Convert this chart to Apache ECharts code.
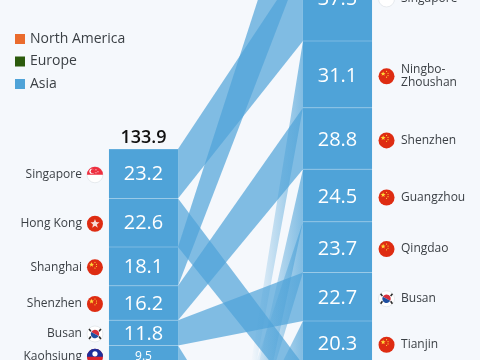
<!DOCTYPE html>
<html>
<head>
<meta charset="utf-8">
<style>
html, body { margin: 0; padding: 0; background: #f5f8fc; overflow: hidden; }
#main { width: 480px; height: 360px; }
</style>
<script src="https://cdn.jsdelivr.net/npm/echarts@6/dist/echarts.min.js"></script>
</head>
<body>
<div id="main"></div>
<script>
const years = ['2005', '2021']
const regions = ['North America', 'Europe', 'Asia']
const leftTotal = '133.9'

const leftPorts = ['Singapore', 'Hong Kong', 'Shanghai', 'Shenzhen', 'Busan', 'Kaohsiung']
const leftValues = [23.2, 22.6, 18.1, 16.2, 11.8, 9.5]
const leftFlags = ['sg', 'hk', 'cn', 'cn', 'kr', 'tw']

// the last rows of the right column run below the crop
const rightPorts = ['Shanghai', 'Singapore', 'Ningbo-\nZhoushan', 'Shenzhen', 'Guangzhou', 'Qingdao', 'Busan', 'Tianjin', 'Hong Kong', 'Rotterdam', 'Dubai', 'Port Klang', 'Antwerp', 'Xiamen', 'Kaohsiung']
const rightValues = [47.0, 37.5, 31.1, 28.8, 24.5, 23.7, 22.7, 20.3, 17.8, 15.3, 13.7, 13.7, 12.0, 12.0, 9.9]
const rightFlags = ['cn', 'sg', 'cn', 'cn', 'cn', 'cn', 'kr', 'cn', 'hk', 'nl', 'ae', 'my', 'be', 'cn', 'tw']

// ports new to the ranking: they fade in from below, no block on the left
const newPorts = ['Ningbo-\nZhoushan', 'Guangzhou', 'Qingdao', 'Tianjin']
const newFromTop = [381, 336, 279, 267]
const newFromBottom = [371, 378, 320, 287]

const PX_PER_UNIT = 2.14
const LEFT_START = 69.6 // axis units from the top of the crop
const RIGHT_START = -65.3
const COLOR = '#4fa3d8'
const RIBBON = 'rgba(79,163,216,0.7)'
const FONT = '"Open Sans", sans-serif'

function stack(values, start) {
	let y = start
	return values.map(v => {
		const row = [y, y + v]
		y += v
		return row
	})
}

const leftStack = stack(leftValues, LEFT_START)
const rightStack = stack(rightValues, RIGHT_START)

const blockRows = [
	...leftValues.map((v, i) => [0, leftStack[i][0], leftStack[i][1], v, i]),
	...rightValues.map((v, i) => [1, rightStack[i][0], rightStack[i][1], v, i])
]

const ribbonRows = leftPorts.map((name, i) => {
	const j = rightPorts.indexOf(name)
	return [leftStack[i][0], leftStack[i][1], rightStack[j][0], rightStack[j][1]]
})

const newRows = newPorts.map((name, i) => {
	const j = rightPorts.indexOf(name)
	return [newFromTop[i], newFromBottom[i], rightStack[j][0], rightStack[j][1]]
})

function star(cx, cy, r, fill) {
	const points = []
	for (let i = 0; i < 10; i++) {
		const a = -Math.PI / 2 + i * Math.PI / 5
		const d = i % 2 ? r * 0.42 : r
		points.push([cx + Math.cos(a) * d, cy + Math.sin(a) * d])
	}
	return { type: 'polygon', shape: { points }, style: { fill } }
}

function flag(kind, cx, cy) {
	const r = 8
	const circle = (x, y, rr, fill, stroke) => ({
		type: 'circle',
		shape: { cx: x, cy: y, r: rr },
		style: { fill, stroke: stroke || null, lineWidth: stroke ? 0.6 : 0 }
	})
	const half = (x, y, rr, start, end, fill) => ({
		type: 'sector',
		shape: { cx: x, cy: y, r: rr, r0: 0, startAngle: start, endAngle: end },
		style: { fill }
	})
	if (kind === 'cn') {
		return [
			circle(cx, cy, r, '#de2c12'),
			star(cx - 3.4, cy - 2.6, 2.6, '#ffd83a'),
			circle(cx, cy - 5, 0.6, '#ffd83a'),
			circle(cx + 1.5, cy - 3, 0.6, '#ffd83a'),
			circle(cx + 1.5, cy - 0.8, 0.6, '#ffd83a'),
			circle(cx, cy + 0.8, 0.6, '#ffd83a')
		]
	}
	if (kind === 'hk') {
		return [circle(cx, cy, r, '#de2c12'), star(cx, cy, 4.8, '#f6dcd6'), circle(cx, cy, 2.2, '#f6dcd6')]
	}
	if (kind === 'sg') {
		return [
			circle(cx, cy, r, '#fff', '#d8dde2'),
			half(cx, cy, r, Math.PI, Math.PI * 2, '#ee2f3f'),
			circle(cx - 3, cy - 3.5, 2.6, '#fff'),
			circle(cx - 2, cy - 3.5, 2.2, '#ee2f3f'),
			circle(cx + 1, cy - 5, 0.6, '#fff'),
			circle(cx + 3, cy - 3, 0.6, '#fff'),
			circle(cx + 1, cy - 2, 0.6, '#fff')
		]
	}
	if (kind === 'kr') {
		const bar = (x, y, rot) => ({
			type: 'rect',
			x,
			y,
			rotation: rot,
			shape: { x: -1.5, y: -0.8, width: 3, height: 1.6 },
			style: { fill: '#2b2b2b' }
		})
		return [
			circle(cx, cy, r, '#fff', '#d8dde2'),
			half(cx, cy, 4.2, Math.PI + 0.5, Math.PI * 2 + 0.5, '#d6303c'),
			half(cx, cy, 4.2, 0.5, Math.PI + 0.5, '#1f4fa0'),
			bar(cx - 5, cy - 3.8, -0.95),
			bar(cx + 5, cy - 3.8, 0.95),
			bar(cx - 5, cy + 3.8, 0.95),
			bar(cx + 5, cy + 3.8, -0.95)
		]
	}
	if (kind === 'tw') {
		return [
			circle(cx, cy, r, '#d8242c'),
			half(cx, cy, r, Math.PI, Math.PI * 2, '#1c2f9c'),
			circle(cx, cy - 3, 2.6, '#fff')
		]
	}
	return [circle(cx, cy, r, '#ccc')]
}

function ribbonShape(api, p) {
	const a = api.coord([0, p[0]])
	const b = api.coord([1, p[2]])
	const c = api.coord([1, p[3]])
	const d = api.coord([0, p[1]])
	const half = api.size([1, 0])[0] * 0.178
	return {
		points: [
			[a[0] + half, a[1]],
			[b[0] - half, b[1]],
			[c[0] - half, c[1]],
			[d[0] + half, d[1]]
		]
	}
}

function renderRibbon(params, api) {
	const p = [api.value(0), api.value(1), api.value(2), api.value(3)]
	return { type: 'polygon', shape: ribbonShape(api, p), style: { fill: RIBBON } }
}

function renderNew(params, api) {
	const p = [api.value(0), api.value(1), api.value(2), api.value(3)]
	return {
		type: 'polygon',
		shape: ribbonShape(api, p),
		style: {
			fill: new echarts.graphic.LinearGradient(0, 0, 1, 0, [
				{ offset: 0, color: 'rgba(79,163,216,0)' },
				{ offset: 0.58, color: 'rgba(79,163,216,0)' },
				{ offset: 1, color: RIBBON }
			])
		}
	}
}

function renderBlock(params, api) {
	const col = api.value(0)
	const top = api.coord([col, api.value(1)])
	const bottom = api.coord([col, api.value(2)])
	const value = api.value(3)
	const i = api.value(4)
	const width = api.size([1, 0])[0] * 0.356
	const height = bottom[1] - top[1]
	const cx = top[0]
	const left = col === 0
	// the labels sit a little off the block centre, the cut off Singapore row higher up
	const nudge = left ? 1 : (i === 1 ? -2 : 2)
	const cy = (top[1] + bottom[1]) / 2 + nudge
	const children = [
		{
			type: 'rect',
			shape: { x: cx - width / 2, y: top[1], width, height },
			style: { fill: COLOR }
		},
		{
			type: 'rect',
			shape: { x: cx - width / 2, y: top[1] - 0.5, width, height: 1 },
			style: { fill: 'rgba(255,255,255,0.25)' }
		},
		{
			type: 'text',
			style: {
				x: cx,
				y: cy,
				text: value.toFixed(1),
				fill: '#fff',
				font: (height < 22 ? 12 : 20) + 'px ' + FONT,
				align: 'center',
				verticalAlign: 'middle'
			}
		},
		{
			type: 'text',
			style: {
				x: left ? cx - width / 2 - 27 : cx + width / 2 + 29,
				y: cy,
				text: (left ? leftPorts : rightPorts)[i],
				fill: '#3a3f44',
				font: '12px ' + FONT,
				lineHeight: 13,
				align: left ? 'right' : 'left',
				verticalAlign: 'middle'
			}
		},
		...flag((left ? leftFlags : rightFlags)[i], left ? cx - width / 2 - 14 : cx + width / 2 + 14.5, cy)
	]
	if (left && i === 0) {
		children.push({
			type: 'text',
			style: {
				x: cx,
				y: top[1] - 11.5,
				text: leftTotal,
				fill: '#111',
				font: '600 18px ' + FONT,
				align: 'center',
				verticalAlign: 'middle'
			}
		})
	}
	return { type: 'group', children }
}

const chart = echarts.init(document.getElementById('main'))
chart.setOption({
	backgroundColor: '#f5f8fc',
	animation: false,
	grid: { left: 46.5, width: 388, top: 0, height: 360 },
	legend: {
		orient: 'vertical',
		left: 15,
		top: 32,
		itemWidth: 10,
		itemHeight: 10,
		itemGap: 8.5,
		icon: 'rect',
		padding: 0,
		selectedMode: false,
		data: regions,
		textStyle: { fontFamily: 'Open Sans', fontSize: 14, color: '#3a3f44' }
	},
	xAxis: { type: 'category', data: years, show: false },
	yAxis: { type: 'value', inverse: true, min: 0, max: 360 / PX_PER_UNIT, show: false },
	series: [
		{ name: 'North America', type: 'custom', renderItem: () => null, data: [], itemStyle: { color: '#ea6b2d' } },
		{ name: 'Europe', type: 'custom', renderItem: () => null, data: [], itemStyle: { color: '#2b5a0c' } },
		{ name: 'ribbons', type: 'custom', silent: true, renderItem: renderRibbon, data: ribbonRows, z: 2 },
		{ name: 'new ports', type: 'custom', silent: true, renderItem: renderNew, data: newRows, z: 2 },
		{ name: 'Asia', type: 'custom', silent: true, renderItem: renderBlock, data: blockRows, itemStyle: { color: COLOR }, z: 3 }
	]
})
</script>
</body>
</html>
